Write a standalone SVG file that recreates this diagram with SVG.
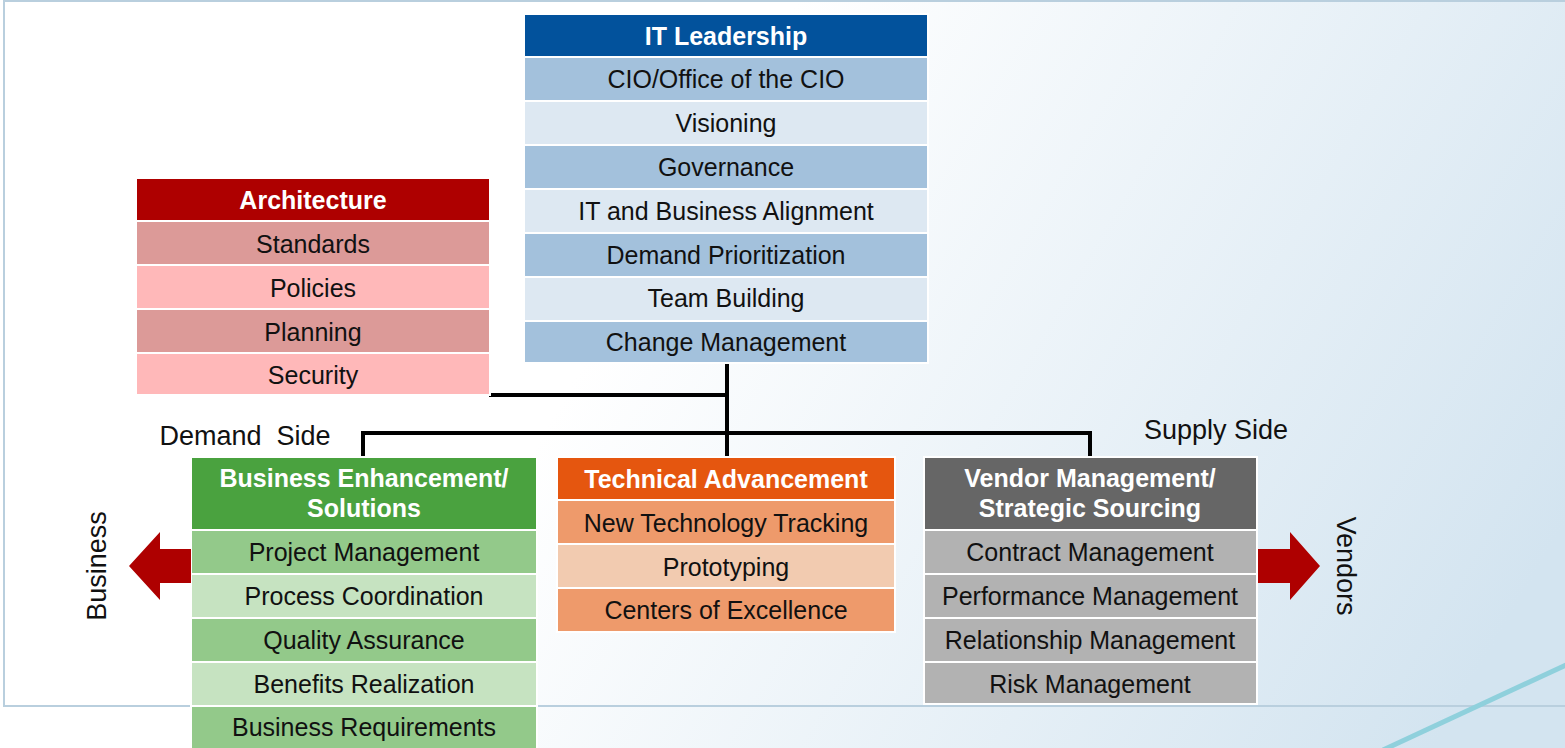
<svg xmlns="http://www.w3.org/2000/svg" width="1565" height="748" viewBox="0 0 1565 748">
<defs>
<linearGradient id="bg" gradientUnits="userSpaceOnUse" x1="650" y1="250" x2="1450" y2="720">
<stop offset="0" stop-color="#FFFFFF"/>
<stop offset="1" stop-color="#D3E4F0"/>
</linearGradient>
<style>
text{font-family:"Liberation Sans",Arial,sans-serif;font-size:25px;text-anchor:middle;fill:#111}
.h{font-weight:bold;fill:#fff}
.side{font-size:27px}
rect.c{stroke:#fff;stroke-width:2}
.con{stroke:#000;stroke-width:4;fill:none;stroke-linecap:square}
</style>
</defs>
<rect x="0" y="0" width="1565" height="748" fill="url(#bg)"/>
<rect x="4" y="1" width="1570" height="705" fill="none" stroke="#B9CFDE" stroke-width="2"/>
<line x1="1383" y1="750" x2="1568" y2="664" stroke="#8FD0DC" stroke-width="5"/>

<g id="connectors">
<path class="con" d="M727 363 V456"/>
<path class="con" d="M491 395 H727"/>
<path class="con" d="M363 456 V433 H1090 V456"/>
</g>

<g id="it-leadership">
<rect class="c" x="524" y="14" width="404" height="43" fill="#02529C"/>
<rect class="c" x="524" y="57" width="404" height="44" fill="#A3C1DC"/>
<rect class="c" x="524" y="101" width="404" height="44" fill="#DDE8F2"/>
<rect class="c" x="524" y="145" width="404" height="44" fill="#A3C1DC"/>
<rect class="c" x="524" y="189" width="404" height="44" fill="#DDE8F2"/>
<rect class="c" x="524" y="233" width="404" height="44" fill="#A3C1DC"/>
<rect class="c" x="524" y="277" width="404" height="44" fill="#DDE8F2"/>
<rect class="c" x="524" y="321" width="404" height="42" fill="#A3C1DC"/>
<text class="h" x="726" y="45">IT Leadership</text>
<text x="726" y="88">CIO/Office of the CIO</text>
<text x="726" y="132">Visioning</text>
<text x="726" y="176">Governance</text>
<text x="726" y="220">IT and Business Alignment</text>
<text x="726" y="264">Demand Prioritization</text>
<text x="726" y="307">Team Building</text>
<text x="726" y="351">Change Management</text>
</g>

<g id="architecture">
<rect class="c" x="136" y="178" width="354" height="43" fill="#AE0000"/>
<rect class="c" x="136" y="221" width="354" height="44" fill="#DC9A98"/>
<rect class="c" x="136" y="265" width="354" height="44" fill="#FFB8B9"/>
<rect class="c" x="136" y="309" width="354" height="44" fill="#DC9A98"/>
<rect class="c" x="136" y="353" width="354" height="42" fill="#FFB8B9"/>
<text class="h" x="313" y="209">Architecture</text>
<text x="313" y="253">Standards</text>
<text x="313" y="297">Policies</text>
<text x="313" y="341">Planning</text>
<text x="313" y="384">Security</text>
</g>

<g id="business-enhancement">
<rect class="c" x="191" y="457" width="346" height="73" fill="#4AA23F"/>
<rect class="c" x="191" y="530" width="346" height="44" fill="#93C98A"/>
<rect class="c" x="191" y="574" width="346" height="44" fill="#C6E3C1"/>
<rect class="c" x="191" y="618" width="346" height="44" fill="#93C98A"/>
<rect class="c" x="191" y="662" width="346" height="44" fill="#C6E3C1"/>
<rect class="c" x="191" y="706" width="346" height="44" fill="#93C98A"/>
<text class="h" x="364" y="487">Business Enhancement/</text>
<text class="h" x="364" y="517">Solutions</text>
<text x="364" y="561">Project Management</text>
<text x="364" y="605">Process Coordination</text>
<text x="364" y="649">Quality Assurance</text>
<text x="364" y="693">Benefits Realization</text>
<text x="364" y="736">Business Requirements</text>
</g>

<g id="technical-advancement">
<rect class="c" x="557" y="457" width="338" height="43" fill="#E5560F"/>
<rect class="c" x="557" y="500" width="338" height="44" fill="#EE9A6B"/>
<rect class="c" x="557" y="544" width="338" height="44" fill="#F2CBB0"/>
<rect class="c" x="557" y="588" width="338" height="44" fill="#EE9A6B"/>
<text class="h" x="726" y="488">Technical Advancement</text>
<text x="726" y="532">New Technology Tracking</text>
<text x="726" y="576">Prototyping</text>
<text x="726" y="619">Centers of Excellence</text>
</g>

<g id="vendor-management">
<rect class="c" x="924" y="457" width="333" height="73" fill="#666666"/>
<rect class="c" x="924" y="530" width="333" height="44" fill="#B2B2B2"/>
<rect class="c" x="924" y="574" width="333" height="44" fill="#B2B2B2"/>
<rect class="c" x="924" y="618" width="333" height="44" fill="#B2B2B2"/>
<rect class="c" x="924" y="662" width="333" height="42" fill="#B2B2B2"/>
<text class="h" x="1090" y="487">Vendor Management/</text>
<text class="h" x="1090" y="517">Strategic Sourcing</text>
<text x="1090" y="561">Contract Management</text>
<text x="1090" y="605">Performance Management</text>
<text x="1090" y="649">Relationship Management</text>
<text x="1090" y="693">Risk Management</text>
</g>

<g id="labels">
<text class="side" x="245" y="445" xml:space="preserve">Demand  Side</text>
<text class="side" x="1216" y="439">Supply Side</text>
<text class="side" transform="translate(106 566) rotate(-90)">Business</text>
<text class="side" transform="translate(1337 566) rotate(90)">Vendors</text>
</g>

<g id="arrows" fill="#AE0000">
<polygon points="191,549 160,549 160,532 129,566 160,600 160,583 191,583"/>
<polygon points="1258,549 1290,549 1290,532 1320,566 1290,600 1290,583 1258,583"/>
</g>
</svg>
